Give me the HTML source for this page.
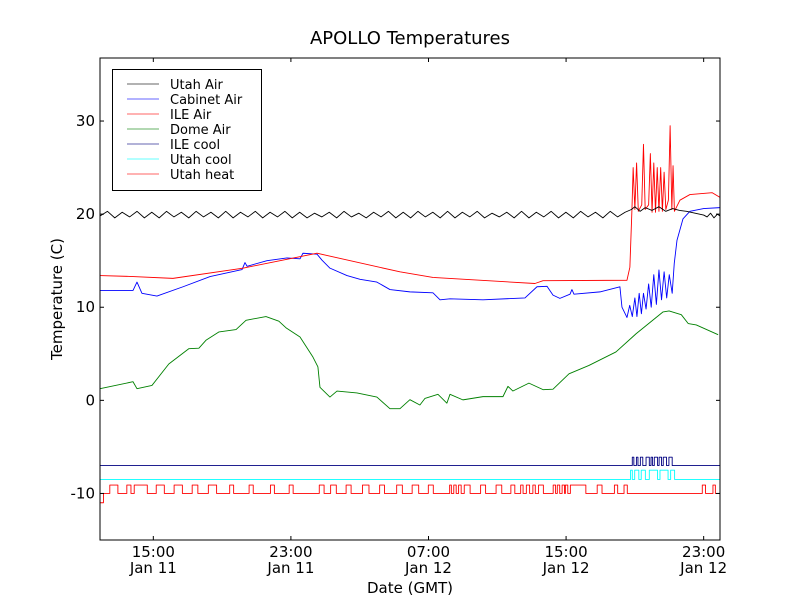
<!DOCTYPE html>
<html><head><meta charset="utf-8"><style>
body{margin:0;background:#fff;}
svg text{font-family:"DejaVu Sans","Liberation Sans",sans-serif;}
</style></head><body>
<svg id="chart" width="800" height="600" viewBox="0 0 800 600" xmlns="http://www.w3.org/2000/svg">
<rect width="800" height="600" fill="#fff"/>
<text x="410" y="44" font-size="18" text-anchor="middle">APOLLO Temperatures</text>
<g id="plot"></g>
<rect x="100" y="58" width="620" height="482" fill="none" stroke="#000" stroke-width="1"/>
<g id="axes"></g>
<text x="410" y="593" font-size="15" text-anchor="middle">Date (GMT)</text>
<text transform="translate(62,299) rotate(-90)" font-size="15" text-anchor="middle">Temperature (C)</text>
<g id="legend"></g>
</svg>
<script>
const xTickHours=[15,23,31,39,47];
const xTickTime=["15:00","23:00","07:00","15:00","23:00"];
const xTickDate=["Jan 11","Jan 11","Jan 12","Jan 12","Jan 12"];
const yTicks=[-10,0,10,20,30];
const utahAirStart=11.9, utahAirStep=0.43;
const utahAirVals=[19.8,20.3,19.6,20.2,19.7,20.3,19.6,20.2,19.6,20.3,19.7,20.2,19.6,20.3,19.7,20.2,19.6,20.3,19.6,20.2,19.7,20.3,19.6,20.2,19.7,20.3,19.6,20.2,19.6,20.1,19.7,20.2,19.6,20.3,19.7,20.1,19.6,20.2,19.7,20.3,19.6,20.2,19.6,20.3,19.7,20.2,19.6,20.3,19.6,20.2,19.7,20.3,19.6,20.1,19.7,20.2,19.6,20.3,19.6,20.2,19.7,20.3,19.6,20.2,19.6,20.3,19.7,20.2,19.6,20.3,19.7,20.2];
const utahAirTailT=[42.8,43.0,43.3,43.6,44.0,44.4,44.8,45.2,45.6,46.0,46.5,47.0,47.2,47.4,47.6,47.8,47.95];
const utahAirTailV=[20.5,20.8,20.3,20.7,20.4,20.8,20.3,20.6,20.4,20.3,20.1,19.9,19.7,20.1,19.6,20.0,19.8];
const cabT=[11.9,13.82,14.05,14.34,15.21,16.73,18.3,20.16,20.33,20.45,21.61,22.77,23.53,23.7,24.52,24.81,25.27,26.26,27.02,28.0,28.76,29.92,31.26,31.67,32.25,34.17,36.61,37.31,37.89,38.24,38.64,39.23,39.34,39.46,40.97,42.13,42.25,42.54,42.7,42.85,43.0,43.12,43.25,43.38,43.5,43.65,43.8,43.95,44.1,44.25,44.4,44.55,44.7,44.85,45.0,45.17,45.29,45.45,45.8,46.2,47,47.95];
const cabV=[11.8,11.8,12.7,11.5,11.2,12.2,13.3,14.05,14.8,14.4,15.0,15.3,15.2,15.8,15.7,15.05,14.2,13.4,13.0,12.7,11.9,11.65,11.55,10.8,10.9,10.8,11.0,12.2,12.25,11.3,10.95,11.4,11.9,11.4,11.65,12.2,10.0,8.9,10.2,9.0,11.0,9.0,11.5,9.3,11.5,9.8,12.5,10.0,13.5,10.3,14.0,10.8,13.8,11.0,13.5,11.5,14.7,17.2,19.5,20.3,20.6,20.7];
const ileT=[11.9,13.82,16.14,20.21,24.52,29.34,31.26,37.19,37.66,42.54,42.71,42.83,42.9,43.0,43.1,43.2,43.4,43.5,43.6,43.8,43.9,44.0,44.1,44.2,44.3,44.4,44.5,44.6,44.7,44.8,44.95,45.05,45.15,45.22,45.3,45.62,46.2,47.5,47.95];
const ileV=[13.4,13.3,13.1,14.2,15.8,13.8,13.2,12.55,12.85,12.9,14.3,20.5,25,20.5,25.5,20.3,21,27.5,20.5,21,26.5,20.2,25.5,20.2,25,20.3,25,20.3,24.5,20.5,21.5,29.5,20.5,25.2,20.3,21.5,22.1,22.3,21.8];
const domeT=[11.9,13.82,14.05,14.92,15.9,17.07,17.65,18.06,18.82,19.81,20.39,21.55,22.3,22.71,23.53,24.28,24.57,24.69,25.27,25.68,26.84,28.0,28.76,29.34,29.92,30.5,30.79,31.55,32.07,32.25,33.0,34.17,35.33,35.62,35.91,36.84,37.66,38.24,39.17,40.33,41.9,43.07,44.64,44.99,45.7,46.1,46.57,47.84];
const domeV=[1.25,2.0,1.25,1.6,3.9,5.55,5.6,6.45,7.35,7.6,8.6,9.0,8.5,7.8,6.8,4.65,3.6,1.4,0.35,1.0,0.8,0.35,-0.9,-0.9,0.07,-0.5,0.2,0.65,-0.3,0.65,0.05,0.4,0.4,1.5,1.0,1.85,1.15,1.2,2.85,3.75,5.2,7.15,9.5,9.6,9.2,8.25,8.1,7.05];
const ileCoolBase=-7, ileCoolHigh=-6.1;
const ileCoolOn=[[42.85,42.94],[43.09,43.18],[43.32,43.46],[43.65,43.84],[43.94,44.03],[44.13,44.32],[44.41,44.55],[44.65,44.84],[44.98,45.17]];
const utahCoolBase=-8.5, utahCoolHigh=-7.5;
const utahCoolOn=[[42.75,42.85],[42.99,43.23],[43.37,43.61],[43.84,44.32],[44.46,44.93],[45.08,45.31]];
const utahHeatBase=-10, utahHeatHigh=-9.1, utahHeatInit=-11, utahHeatInitEnd=12.1;
const utahHeatOn=[[12.47,12.94],[13.46,13.70],[13.89,14.65],[15.17,15.64],[16.21,16.69],[17.26,17.59],[18.20,18.68],[19.44,19.67],[20.57,20.81],[21.81,22.04],[22.90,23.13],[24.65,24.93],[25.31,25.64],[26.21,26.50],[27.16,27.54],[28.16,28.44],[29.15,29.48],[30.05,30.43],[30.99,31.28],[32.23,32.33],[32.47,32.61],[32.75,32.90],[33.08,33.42],[34.03,34.32],[34.93,35.26],[35.79,36.02],[36.36,36.50],[36.69,36.88],[37.07,37.21],[37.40,37.68],[38.25,38.39],[38.49,38.63],[38.77,38.91],[38.96,39.10],[39.25,40.15],[40.81,41.09],[41.81,42.0],[42.37,42.56],[46.92,47.11],[47.54,47.68]];
const legendLabels=["Utah Air","Cabinet Air","ILE Air","Dome Air","ILE cool","Utah cool","Utah heat"];

const X0=100,X1=720,Y0=540,Y1=58,TMIN=11.9,TMAX=47.95,VMIN=-15,VMAX=36.77;
function sx(t){return X0+(t-TMIN)/(TMAX-TMIN)*(X1-X0);}
function sy(v){return Y0-(v-VMIN)/(VMAX-VMIN)*(Y0-Y1);}
const NS="http://www.w3.org/2000/svg";
const plot=document.getElementById('plot'),axes=document.getElementById('axes'),legend=document.getElementById('legend');
function mk(tag,attrs,parent){const e=document.createElementNS(NS,tag);for(const k in attrs)e.setAttribute(k,attrs[k]);parent.appendChild(e);return e;}
function line(ts,vs,color,name){
  const d=ts.map((t,i)=>(i?'L':'M')+sx(t).toFixed(2)+','+sy(vs[i]).toFixed(2)).join('');
  const p=mk('path',{d:d,fill:'none',stroke:color,'stroke-width':0.9,'stroke-linejoin':'round'},plot);
  
  
}
function pulses(on,base,high,color,name,initV,initEnd){
  const ts=[],vs=[];
  if(initV!==undefined){ts.push(TMIN,initEnd,initEnd);vs.push(initV,initV,base);} else {ts.push(TMIN);vs.push(base);}
  on.forEach(iv=>{ts.push(iv[0],iv[0],iv[1],iv[1]);vs.push(base,high,high,base);});
  ts.push(TMAX);vs.push(base);
  line(ts,vs,color,name);
}
const utT=[],utV=[];
utahAirVals.forEach((v,i)=>{utT.push(utahAirStart+i*utahAirStep);utV.push(v);});
utahAirTailT.forEach((t,i)=>{utT.push(t);utV.push(utahAirTailV[i]);});
pulses(utahHeatOn,utahHeatBase,utahHeatHigh,'#ff0000','utah-heat-line',utahHeatInit,utahHeatInitEnd);
pulses(utahCoolOn,utahCoolBase,utahCoolHigh,'#00ffff','utah-cool-line');
pulses(ileCoolOn,ileCoolBase,ileCoolHigh,'#000080','ile-cool-line');
line(domeT,domeV,'#008000','dome-air-line');
line(cabT,cabV,'#0000ff','cabinet-air-line');
line(ileT,ileV,'#ff0000','ile-air-line');
line(utT,utV,'#000000','utah-air-line');

xTickHours.forEach((h,i)=>{
  const x=sx(h);
  let t=mk('line',{x1:x,x2:x,y1:Y0,y2:Y0-4,stroke:'#000'},axes);
  
  t=mk('line',{x1:x,x2:x,y1:Y1,y2:Y1+4,stroke:'#000'},axes);
  
  let tx=mk('text',{x:x,y:557,'font-size':15,'text-anchor':'middle'},axes);tx.textContent=xTickTime[i];
  
  tx=mk('text',{x:x,y:573,'font-size':15,'text-anchor':'middle'},axes);tx.textContent=xTickDate[i];
  
});
yTicks.forEach(v=>{
  const y=sy(v);
  let t=mk('line',{x1:X0,x2:X0+4,y1:y,y2:y,stroke:'#000'},axes);
  
  t=mk('line',{x1:X1,x2:X1-4,y1:y,y2:y,stroke:'#000'},axes);
  
  const tx=mk('text',{x:95,y:y+5,'font-size':15,'text-anchor':'end'},axes);tx.textContent=String(v);
  
});
const lcolors=['#000000','#0000ff','#ff0000','#008000','#000080','#00ffff','#ff0000'];
const lb=mk('rect',{x:112.5,y:69.5,width:149,height:121,fill:'#fff',stroke:'#000'},legend);

legendLabels.forEach((s,i)=>{
  const y=84+i*15;
  const g=mk('g',{},legend);
  
  mk('line',{x1:127,x2:159,y1:y,y2:y,stroke:lcolors[i],'stroke-width':1,opacity:0.6},g);
  const t=mk('text',{x:170,y:y+5,'font-size':13},g);t.textContent=s;
});
</script>
</body></html>
